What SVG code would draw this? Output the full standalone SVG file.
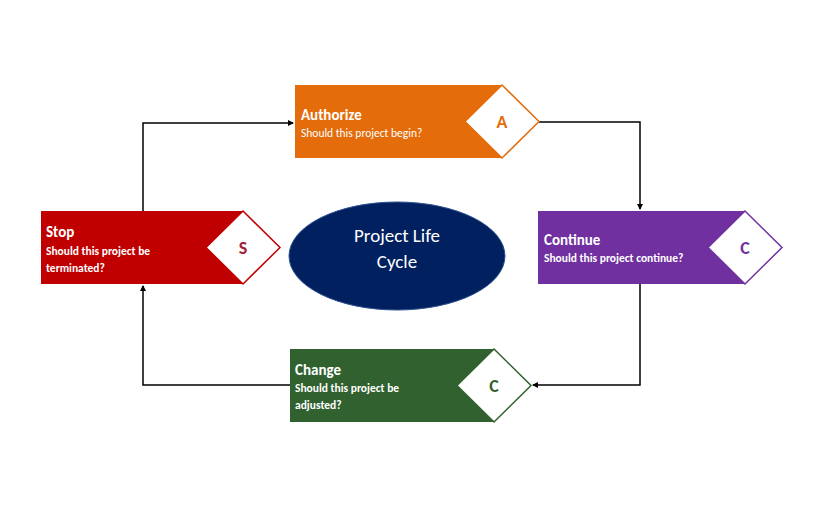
<svg xmlns="http://www.w3.org/2000/svg" width="832" height="512" viewBox="0 0 832 512">
<style>
text{font-family:Calibri,Carlito,"Liberation Sans",sans-serif}
.t{fill:#fff;font-weight:bold;font-size:15px}
.s{fill:#fff;font-size:11.5px}
.sb{fill:#fff;font-size:11.5px;font-weight:bold}
.l{font-weight:bold;font-size:18px;text-anchor:middle}
.c{fill:none;stroke:#000;stroke-width:1.5}
</style>
<defs><marker id="a" markerWidth="6" markerHeight="6" refX="5" refY="3" orient="auto" markerUnits="userSpaceOnUse"><path d="M0,0L6,3L0,6z" fill="#000"/></marker></defs>
<rect width="832" height="512" fill="#fff"/>
<g id="connectors">
<path class="c" d="M143,211V123H293" marker-end="url(#a)"/>
<path class="c" d="M539,122H640V209" marker-end="url(#a)"/>
<path class="c" d="M640,284V385H533" marker-end="url(#a)"/>
<path class="c" d="M290,385H143V286" marker-end="url(#a)"/>
</g>
<g id="center"><ellipse cx="397" cy="256" rx="108" ry="54" fill="#002060" stroke="#2f528f" stroke-width="1"/>
<text x="397" y="242" text-anchor="middle" fill="#fff" font-size="19">Project Life</text>
<text x="397" y="268" text-anchor="middle" fill="#fff" font-size="19">Cycle</text></g>
<g id="authorize"><rect x="295" y="85" width="207" height="73" fill="#E46C0A"/>
<polygon points="502,85 539,121.5 502,158 465,121.5" fill="#fff" stroke="#E46C0A" stroke-width="1.5"/>
<text class="l" x="502" y="128" fill="#E46C0A">A</text>
<text class="t" x="301" y="120">Authorize</text>
<text class="s" x="301" y="137">Should this project begin?</text></g>
<g id="continue"><rect x="538" y="211" width="207" height="73" fill="#7030A0"/>
<polygon points="745,211 782,247.5 745,284 708,247.5" fill="#fff" stroke="#7030A0" stroke-width="1.5"/>
<text class="l" x="745" y="254" fill="#7030A0">C</text>
<text class="t" x="544" y="245">Continue</text>
<text class="sb" x="544" y="262">Should this project continue?</text></g>
<g id="change"><rect x="290" y="349" width="204" height="73" fill="#31612F"/>
<polygon points="494,349 531,385.5 494,422 457,385.5" fill="#fff" stroke="#31612F" stroke-width="1.5"/>
<text class="l" x="494" y="392" fill="#31612F">C</text>
<text class="t" x="295" y="375">Change</text>
<text class="sb" x="295" y="392">Should this project be</text>
<text class="sb" x="295" y="409">adjusted?</text></g>
<g id="stop"><rect x="41" y="211" width="202" height="73" fill="#C00000"/>
<polygon points="243,211 280,247.5 243,284 206,247.5" fill="#fff" stroke="#C00000" stroke-width="1.5"/>
<text class="l" x="243" y="254" fill="#A0233A">S</text>
<text class="t" x="46" y="237">Stop</text>
<text class="sb" x="46" y="255">Should this project be</text>
<text class="sb" x="46" y="272">terminated?</text></g>
</svg>
